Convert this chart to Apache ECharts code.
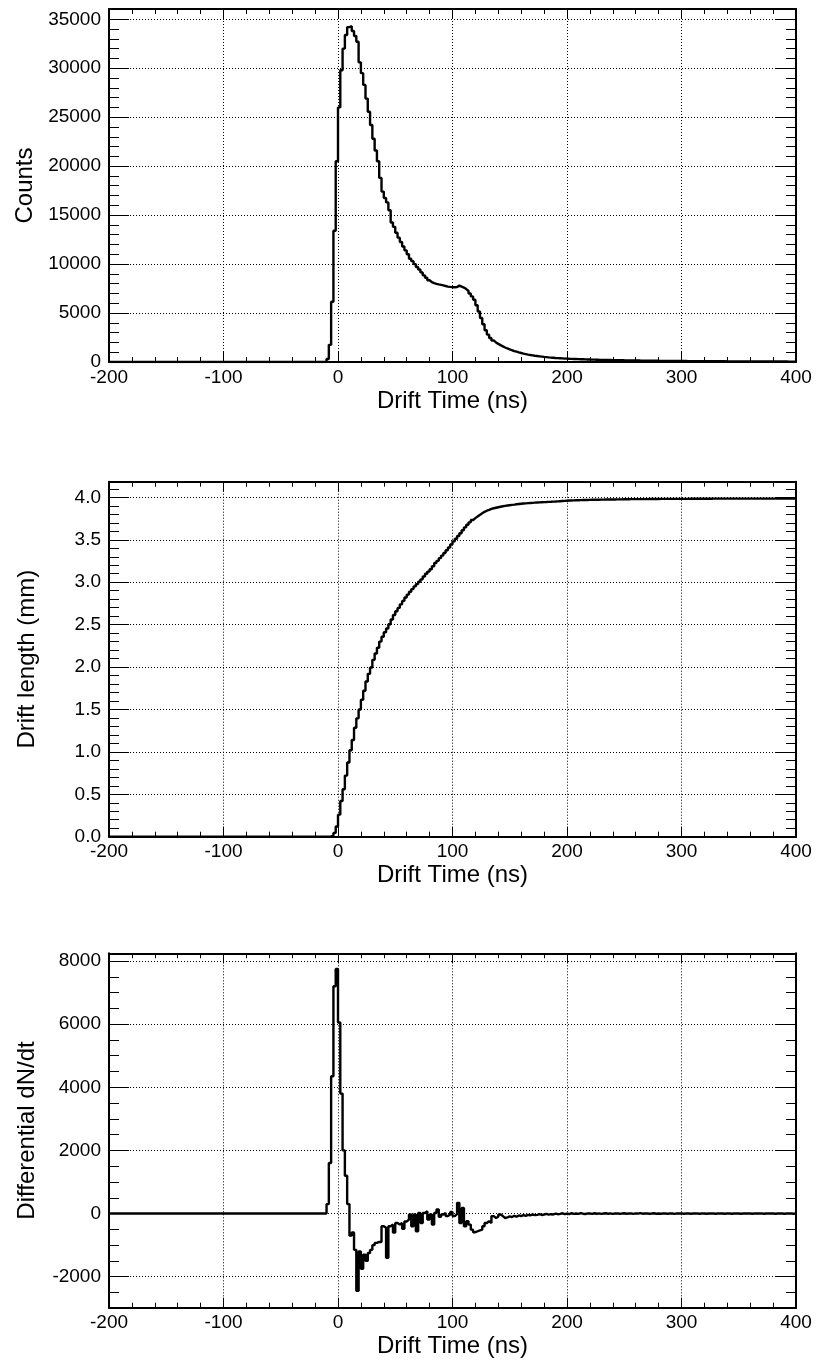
<!DOCTYPE html>
<html><head><meta charset="utf-8">
<script src="https://cdn.jsdelivr.net/npm/echarts@6/dist/echarts.min.js"></script>
<style>html,body{margin:0;padding:0;background:#fff}#c{width:816px;height:1363px}</style>
</head><body><div id="c"></div>
<script>
// ---- data (2 ns bins, low edges starting at binLowEdge; before it the histograms are empty) ----
const xRange = [-200, 400];
const xTickStep = 100;
const binLowEdge = -12;
const binWidth = 2;

const counts = [
  0, 300, 1750, 6150, 13400, 20500, 26000, 29800, 32000, 33400,          // -12 .. 6
  34200, 34300, 33800, 33300, 32700, 30600, 29500, 28300, 26900, 25550,  // 8 .. 26
  24200, 22800, 21600, 20500, 18800, 17400, 16750, 16300, 15500, 14250,  // 28 .. 46
  13800, 13200, 12700, 12250, 11800, 11400, 11000, 10550, 10300, 10000,  // 48 .. 66
  9700, 9450, 9150, 8850, 8600, 8350, 8150, 8050, 7980, 7920,            // 68 .. 86
  7870, 7820, 7760, 7700, 7670, 7650, 7630, 7650, 7800, 7700,            // 88 .. 106
  7600, 7450, 7250, 7000, 6700, 6350, 5800, 5150, 4500, 3850,            // 108 .. 126
  3250, 2800, 2450, 2200, 2000, 1850, 1720, 1600, 1480, 1380,            // 128 .. 146
  1290, 1200, 1120, 1050, 980, 920, 860, 810, 760, 720,                  // 148 .. 166
  680, 640, 610, 580, 550, 520, 495, 470, 450, 430,                      // 168 .. 186
  410, 395, 380, 365, 350, 340, 325, 315, 305, 300,                      // 188 .. 206
  290, 280, 275, 265, 260, 250, 245, 240, 235, 225,                      // 208 .. 226
  220, 215, 210, 205, 200, 195, 190, 185, 180, 178,                      // 228 .. 246
  172, 168, 165, 160, 157, 152, 150, 146, 143, 140,                      // 248 .. 266
  137, 134, 131, 128, 125, 122, 120, 118, 115, 112,                      // 268 .. 286
  110, 108, 106, 104, 102, 100, 98, 96, 94, 92,                          // 288 .. 306
  90, 89, 87, 85, 84, 82, 80, 79, 77, 76,                                // 308 .. 326
  74, 73, 72, 70, 69, 68, 66, 65, 64, 63,                                // 328 .. 346
  62, 61, 60, 59, 58, 57, 56, 55, 54, 53,                                // 348 .. 366
  52, 51, 51, 50, 49, 48, 47, 47, 46, 45,                                // 368 .. 386
  45, 44, 43, 42, 42, 41                                                 // 388 .. 398
];

const driftLength = [
  0, 0, 0.004, 0.015, 0.045, 0.12, 0.26, 0.42, 0.56, 0.72,                        // -12 .. 6
  0.875, 1.02, 1.14, 1.285, 1.395, 1.5, 1.614, 1.72, 1.83, 1.92,                  // 8 .. 26
  1.995, 2.085, 2.16, 2.227, 2.3, 2.358, 2.41, 2.455, 2.505, 2.56,                // 28 .. 46
  2.614, 2.658, 2.697, 2.739, 2.78, 2.82, 2.854, 2.888, 2.919, 2.951,             // 48 .. 66
  2.978, 3.006, 3.034, 3.068, 3.099, 3.125, 3.153, 3.188, 3.226, 3.252,           // 68 .. 86
  3.284, 3.314, 3.344, 3.377, 3.41, 3.446, 3.481, 3.513, 3.544, 3.578,            // 88 .. 106
  3.612, 3.647, 3.677, 3.706, 3.734, 3.756, 3.776, 3.794, 3.814, 3.83,            // 108 .. 126
  3.843, 3.853, 3.864, 3.872, 3.878, 3.884, 3.89, 3.895, 3.9, 3.904,              // 128 .. 146
  3.908, 3.912, 3.915, 3.919, 3.922, 3.925, 3.928, 3.93, 3.932, 3.934,            // 148 .. 166
  3.936, 3.938, 3.94, 3.941, 3.943, 3.944, 3.945, 3.947, 3.948, 3.95,             // 168 .. 186
  3.951, 3.953, 3.955, 3.957, 3.959, 3.961, 3.963, 3.964, 3.965, 3.966,           // 188 .. 206
  3.967, 3.968, 3.969, 3.97, 3.97, 3.971, 3.972, 3.972, 3.973, 3.973,             // 208 .. 226
  3.974, 3.974, 3.975, 3.975, 3.976, 3.976, 3.976, 3.977, 3.977, 3.977,           // 228 .. 246
  3.978, 3.978, 3.978, 3.979, 3.979, 3.979, 3.979, 3.98, 3.98, 3.98,              // 248 .. 266
  3.98, 3.981, 3.981, 3.981, 3.981, 3.981, 3.982, 3.982, 3.982, 3.982,            // 268 .. 286
  3.982, 3.982, 3.983, 3.983, 3.983, 3.983, 3.983, 3.983, 3.983, 3.984,           // 288 .. 306
  3.984, 3.984, 3.984, 3.984, 3.984, 3.984, 3.984, 3.984, 3.984, 3.985,           // 308 .. 326
  3.985, 3.985, 3.985, 3.985, 3.985, 3.985, 3.985, 3.985, 3.985, 3.985,           // 328 .. 346
  3.985, 3.985, 3.985, 3.985, 3.985, 3.985, 3.985, 3.985, 3.985, 3.985,           // 348 .. 366
  3.985, 3.985, 3.985, 3.986, 3.986, 3.986, 3.986, 3.986, 3.986, 3.986,           // 368 .. 386
  3.986, 3.986, 3.986, 3.986, 3.986, 3.986                                        // 388 .. 398
];

const dNdt = [
  0, 300, 1600, 4350, 7200, 7750, 6050, 3800, 2000, 1200,                // -12 .. 6
  300, -700, -600, -1150, -2450, -1200, -1750, -1300, -1500, -1250,      // 8 .. 26
  -1150, -1000, -930, -900, -900, -400, -450, -1400, -400, -350,         // 28 .. 46
  -600, -300, -350, -300, -480, -250, -190, -30, -400, -30,              // 48 .. 66
  -560, 20, -300, 20, 70, -190, -30, -350, 20, 130,                      // 68 .. 86
  -100, -30, 20, -80, -30, 50, -80, -20, 340, -300,                      // 88 .. 106
  180, -400, -240, -350, -510, -590, -560, -530, -510, -400,             // 108 .. 126
  -300, -240, -300, -80, -140, -100, -30, -80, -140, -120,               // 128 .. 146
  -90, -110, -70, -100, -60, -80, -50, -70, -40, -60,                    // 148 .. 166
  -30, -50, -40, -20, -45, -30, -10, -35, -20, -30,                      // 168 .. 186
  0, -20, -10, 10, -20, 0, -15, 10, -10, 0,                              // 188 .. 206
  -10, 15, -5, -15, 5, 0, -10, 10, -5, 5,                                // 208 .. 226
  -10, 0, 10, -5, 5, -10, 0, 5, -5, 0,                                   // 228 .. 246
  10, -5, 0, 5, -10, 5, 0, 15, -5, 0,                                    // 248 .. 266
  5, -5, 0, 10, -5, 0, -5, 5, 0, -5,                                     // 268 .. 286
  5, 0, -10, 5, 0, 5, -5, 0, 5, -5,                                      // 288 .. 306
  0, 5, 0, -5, 5, 0, -5, 0, 5, 0,                                        // 308 .. 326
  -5, 5, 0, 0, -5, 5, 0, -5, 0, 5,                                       // 328 .. 346
  0, -5, 0, 5, 0, 0, -5, 5, 0, 0,                                        // 348 .. 366
  5, -5, 0, 0, 5, 0, -5, 0, 5, 0,                                        // 368 .. 386
  -5, 0, 5, 0, -5, 0                                                     // 388 .. 398
];

const xTitle = 'Drift Time (ns)';
const yTitles = ['Counts', 'Drift length (mm)', 'Differential dN/dt'];
const yRanges = [[0, 36050], [0, 4.185], [-2982, 8244]];

// ---- layout / style ----
const FONT = '"Liberation Sans", Arial, Helvetica, sans-serif';
const panelLayout = [
  {top: 9, height: 353, ySplit: 7, yMinor: 5, showMin: true, fmt: v => String(v)},
  {top: 481.7, height: 355, ySplit: 8, yMinor: 5, showMin: true, fmt: v => v.toFixed(1)},
  {top: 953.3, height: 354.4, ySplit: 5, yMinor: 4, showMin: false, fmt: v => String(v)}
];
const seriesValues = [counts, driftLength, dNdt];

function histPoints(vals) {
  const pts = [[xRange[0], 0]];
  vals.forEach((v, i) => pts.push([binLowEdge + i * binWidth, v]));
  pts.push([binLowEdge + vals.length * binWidth, vals[vals.length - 1]]);
  return pts;
}

const black = '#000';
const grids = [], xAxes = [], yAxes = [], series = [];
panelLayout.forEach((p, i) => {
  grids.push({left: 109, right: 20, top: p.top, height: p.height, containLabel: false});
  const xCommon = {
    gridIndex: i, type: 'value', min: xRange[0], max: xRange[1], interval: xTickStep,
    axisLine: {show: true, onZero: false, lineStyle: {color: black, width: 2}},
    axisTick: {show: true, inside: true, length: 10, lineStyle: {color: black, width: 1}},
    minorTick: {show: true, splitNumber: 5, length: 5, lineStyle: {color: black, width: 1}}
  };
  xAxes.push(Object.assign({}, xCommon, {
    position: 'bottom',
    axisLabel: {show: true, color: black, fontSize: 19, fontFamily: FONT, margin: 6},
    splitLine: {show: true, lineStyle: {color: black, width: 1, type: [1, 2]}},
    name: xTitle, nameLocation: 'middle', nameGap: 27,
    nameTextStyle: {color: black, fontSize: 24, fontFamily: FONT, verticalAlign: 'top'}
  }));
  xAxes.push(Object.assign({}, xCommon, {
    position: 'top', axisLabel: {show: false}, splitLine: {show: false}
  }));
  const yCommon = {
    gridIndex: i, type: 'value', min: yRanges[i][0], max: yRanges[i][1], splitNumber: p.ySplit,
    axisLine: {show: true, onZero: false, lineStyle: {color: black, width: 2}},
    axisTick: {show: true, inside: true, length: 20, lineStyle: {color: black, width: 1}},
    minorTick: {show: true, splitNumber: p.yMinor, length: 10, lineStyle: {color: black, width: 1}}
  };
  yAxes.push(Object.assign({}, yCommon, {
    position: 'left',
    axisLabel: {show: true, color: black, fontSize: 19, fontFamily: FONT, margin: 8, formatter: p.fmt,
                showMinLabel: p.showMin, showMaxLabel: false},
    splitLine: {show: true, lineStyle: {color: black, width: 1, type: [1, 2]}},
    name: yTitles[i], nameLocation: 'middle', nameGap: 70, nameRotate: 90,
    nameTextStyle: {color: black, fontSize: 24, fontFamily: FONT}
  }));
  yAxes.push(Object.assign({}, yCommon, {
    position: 'right', axisLabel: {show: false}, splitLine: {show: false}
  }));
  series.push({
    type: 'line', xAxisIndex: 2 * i, yAxisIndex: 2 * i, step: 'end',
    data: histPoints(seriesValues[i]), showSymbol: false, symbol: 'none',
    lineStyle: {color: black, width: 2.4}, itemStyle: {color: black},
    animation: false, silent: true, clip: true, z: 3
  });
});

const chart = echarts.init(document.getElementById('c'), null, {renderer: 'canvas'});
chart.setOption({
  animation: false, backgroundColor: '#fff',
  grid: grids, xAxis: xAxes, yAxis: yAxes, series: series
});
</script>
</body></html>
